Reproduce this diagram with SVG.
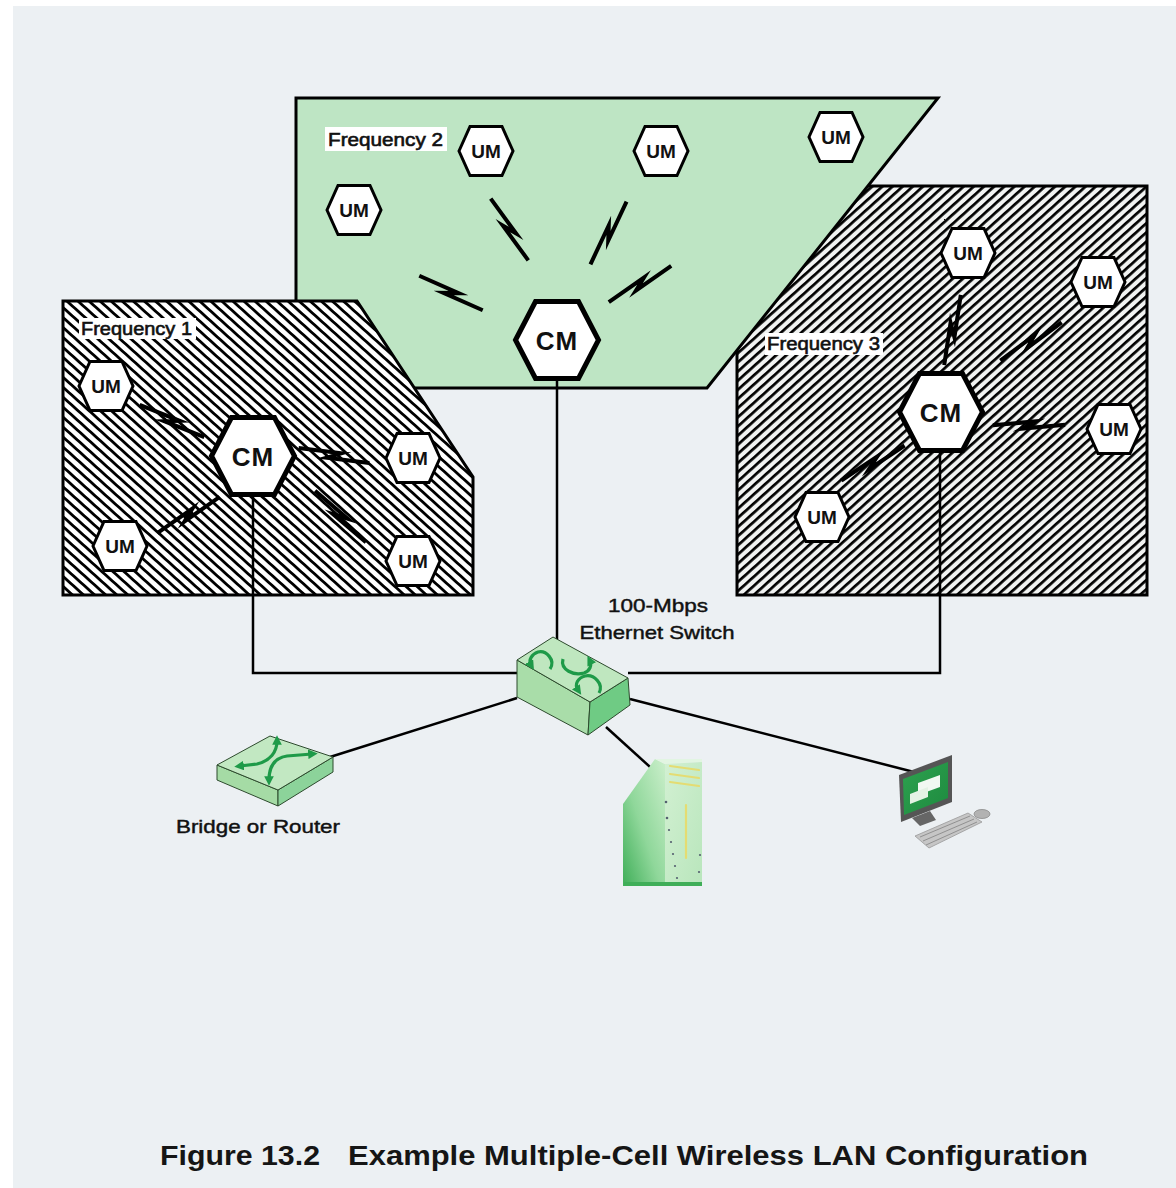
<svg xmlns="http://www.w3.org/2000/svg" width="1176" height="1188" viewBox="0 0 1176 1188">
  <style>
    .region { stroke: #000; stroke-width: 3; stroke-linejoin: miter; }
    .um { fill: #fff; stroke: #000; stroke-width: 3; stroke-linejoin: miter; }
    .cm { fill: #fff; stroke: #000; stroke-width: 5; stroke-linejoin: miter; }
    .um-t { font-family: "Liberation Sans", Arial, sans-serif; font-weight: bold; font-size: 19px; text-anchor: middle; fill: #111; }
    .cm-t { font-family: "Liberation Sans", Arial, sans-serif; font-weight: bold; font-size: 26px; text-anchor: middle; fill: #111; letter-spacing: 1px; }
    .freq-bg { fill: #fff; }
    .freq-t { font-family: "Liberation Sans", Arial, sans-serif; font-size: 18px; fill: #111; stroke: #111; stroke-width: 0.6; }
    .label { font-family: "Liberation Sans", Arial, sans-serif; font-size: 19px; fill: #111; stroke: #111; stroke-width: 0.45; }
    .caption { font-family: "Liberation Sans", Arial, sans-serif; font-weight: bold; font-size: 28px; fill: #151515; }
    .wire { fill: none; stroke: #000; stroke-width: 2.5; }
    .bolt { fill: none; stroke: #000; stroke-width: 4; stroke-linejoin: miter; stroke-miterlimit: 10; }
    .garrow { fill: none; stroke: #1E9A48; stroke-width: 3.2; }
    .edge { stroke: #2d4a2d; stroke-width: 1; stroke-linejoin: round; }
  </style>
  <defs>
    <!-- hatch for cell 1: lines falling to the right -->
    <pattern id="hatch1" patternUnits="userSpaceOnUse" width="7.4" height="7.4" patternTransform="rotate(42)">
      <rect width="7.4" height="7.4" fill="#fff"/>
      <rect y="0" width="7.4" height="2.8" fill="#000"/>
    </pattern>
    <!-- hatch for cell 3: lines rising to the right -->
    <pattern id="hatch3" patternUnits="userSpaceOnUse" width="6.8" height="6.8" patternTransform="rotate(-42)">
      <rect width="6.8" height="6.8" fill="#F1F3F2"/>
      <rect y="0" width="6.8" height="2.7" fill="#000"/>
    </pattern>
    <polygon id="um-hex" points="-27,0 -16,-24.5 16,-24.5 27,0 16,24.5 -16,24.5"/>
    <polygon id="cm-hex" points="-41.5,0 -21.5,-38.5 21.5,-38.5 41.5,0 21.5,38.5 -21.5,38.5"/>
    <!-- radio link symbol, 72 px long, centred on the origin -->
    <path id="bolt" class="bolt" d="M -36,-3 L 7,-3 L -7,3 L 36,3"/>
    <marker id="ghead" viewBox="0 0 10 10" refX="4" refY="5" markerWidth="3" markerHeight="3" orient="auto-start-reverse">
      <path d="M0,0 L10,5 L0,10 z" fill="#1E9A48"/>
    </marker>
    <linearGradient id="srv-side" x1="1" y1="0" x2="0" y2="1">
      <stop offset="0" stop-color="#CBEFCB"/>
      <stop offset="0.55" stop-color="#8FD79A"/>
      <stop offset="1" stop-color="#3FAE58"/>
    </linearGradient>
    <linearGradient id="srv-front" x1="0" y1="0" x2="1" y2="1">
      <stop offset="0" stop-color="#D2F0D2"/>
      <stop offset="1" stop-color="#B9E6BC"/>
    </linearGradient>
    <linearGradient id="screen" x1="0" y1="0" x2="1" y2="1">
      <stop offset="0" stop-color="#2DA24F"/>
      <stop offset="1" stop-color="#1E8A3F"/>
    </linearGradient>
  </defs>

  <!-- page -->
  <rect width="1176" height="1188" fill="#fff"/>
  <rect x="13" y="6" width="1163" height="1182" fill="#ECF0F3"/>

  <!-- cell areas -->
  <g id="cell-3">
    <rect class="region" x="737" y="186" width="410" height="409" fill="url(#hatch3)"/>
  </g>
  <g id="cell-2">
    <polygon class="region" points="296,98 938,98 707,388 296,388" fill="#BEE5C4"/>
  </g>
  <g id="cell-1">
    <polygon class="region" points="63,301 357,301 473,477 473,595 63,595" fill="url(#hatch1)"/>
  </g>

  <!-- wired connections -->
  <g id="connectors">
    <polyline class="wire" points="557,378 557,640"/>
    <polyline class="wire" points="253,494 253,673 517,673"/>
    <polyline class="wire" points="940,450 940,673 628,673"/>
    <line class="wire" x1="517" y1="698" x2="330" y2="757"/>
    <line class="wire" x1="606" y1="727" x2="660" y2="776"/>
    <line class="wire" x1="630" y1="699" x2="914" y2="772"/>
  </g>

  <!-- radio links -->
  <g id="radio-links">
    <use href="#bolt" transform="translate(509.5,229.5) rotate(53.9)"/>
    <use href="#bolt" transform="translate(608.5,233) rotate(-64.8)"/>
    <use href="#bolt" transform="translate(451,293) rotate(23.8)"/>
    <use href="#bolt" transform="translate(640,284) rotate(-35)"/>
    <use href="#bolt" transform="translate(172,421) rotate(21.8)"/>
    <use href="#bolt" transform="translate(334,455.5) rotate(7.1)"/>
    <use href="#bolt" transform="translate(188.5,515) rotate(-35)"/>
    <use href="#bolt" transform="translate(340.5,516.5) rotate(40.5)" style="stroke-width:5.5"/>
    <use href="#bolt" transform="translate(952.5,330) rotate(-81.5)"/>
    <use href="#bolt" transform="translate(1031,341.5) rotate(-36.6)"/>
    <use href="#bolt" transform="translate(1029,425) rotate(-5)"/>
    <use href="#bolt" transform="translate(873,463) rotate(-33.7)"/>
  </g>

  <!-- cell labels -->
  <g id="label-f1">
    <rect class="freq-bg" x="79" y="318" width="117" height="21"/>
    <text class="freq-t" x="81" y="335" textLength="111" lengthAdjust="spacingAndGlyphs">Frequency 1</text>
  </g>
  <g id="label-f2">
    <rect class="freq-bg" x="325" y="127" width="122" height="24"/>
    <text class="freq-t" x="328" y="146" textLength="115" lengthAdjust="spacingAndGlyphs">Frequency 2</text>
  </g>
  <g id="label-f3">
    <rect class="freq-bg" x="765" y="333" width="118" height="22"/>
    <text class="freq-t" x="767" y="350" textLength="113" lengthAdjust="spacingAndGlyphs">Frequency 3</text>
  </g>

  <!-- cell 2 stations -->
  <g id="f2-um1" transform="translate(486,151)"><use href="#um-hex" class="um"/><text class="um-t" y="7">UM</text></g>
  <g id="f2-um2" transform="translate(661,151)"><use href="#um-hex" class="um"/><text class="um-t" y="7">UM</text></g>
  <g id="f2-um3" transform="translate(836,137)"><use href="#um-hex" class="um"/><text class="um-t" y="7">UM</text></g>
  <g id="f2-um4" transform="translate(354,210)"><use href="#um-hex" class="um"/><text class="um-t" y="7">UM</text></g>
  <g id="f2-cm" transform="translate(557,340)"><use href="#cm-hex" class="cm"/><text class="cm-t" y="9.5">CM</text></g>

  <!-- cell 1 stations -->
  <g id="f1-um1" transform="translate(106,386)"><use href="#um-hex" class="um"/><text class="um-t" y="7">UM</text></g>
  <g id="f1-um2" transform="translate(413,458)"><use href="#um-hex" class="um"/><text class="um-t" y="7">UM</text></g>
  <g id="f1-um3" transform="translate(120,546)"><use href="#um-hex" class="um"/><text class="um-t" y="7">UM</text></g>
  <g id="f1-um4" transform="translate(413,561)"><use href="#um-hex" class="um"/><text class="um-t" y="7">UM</text></g>
  <g id="f1-cm" transform="translate(253,456)"><use href="#cm-hex" class="cm"/><text class="cm-t" y="9.5">CM</text></g>

  <!-- cell 3 stations -->
  <g id="f3-um1" transform="translate(968,253)"><use href="#um-hex" class="um"/><text class="um-t" y="7">UM</text></g>
  <g id="f3-um2" transform="translate(1098,282)"><use href="#um-hex" class="um"/><text class="um-t" y="7">UM</text></g>
  <g id="f3-um3" transform="translate(1114,429)"><use href="#um-hex" class="um"/><text class="um-t" y="7">UM</text></g>
  <g id="f3-um4" transform="translate(822,517)"><use href="#um-hex" class="um"/><text class="um-t" y="7">UM</text></g>
  <g id="f3-cm" transform="translate(941,412)"><use href="#cm-hex" class="cm"/><text class="cm-t" y="9.5">CM</text></g>

  <!-- Ethernet switch -->
  <g id="switch">
    <polygon class="edge" points="517,660 590,702 588,735 517,697" fill="#A9DDA9"/>
    <polygon class="edge" points="590,702 628,678 630,705 588,735" fill="#6FCB84"/>
    <polygon class="edge" points="517,660 553,637 628,678 590,702" fill="#BFE7BF"/>
    <path class="garrow" d="M 550,669 C 556,660 546,650 538,652 C 532,654 528,660 531,665" marker-end="url(#ghead)"/>
    <path class="garrow" d="M 563,659 C 560,670 574,676 584,673 C 590,671 592,665 590,661" marker-end="url(#ghead)"/>
    <path class="garrow" d="M 599,693 C 604,684 594,674 585,676 C 578,678 574,684 578,690" marker-end="url(#ghead)"/>
    <text class="label" x="658" y="612" text-anchor="middle" textLength="100" lengthAdjust="spacingAndGlyphs">100-Mbps</text>
    <text class="label" x="657" y="639" text-anchor="middle" textLength="155" lengthAdjust="spacingAndGlyphs">Ethernet Switch</text>
  </g>

  <!-- bridge / router -->
  <g id="bridge">
    <polygon class="edge" points="217,765 278,790 278,806 217,780" fill="#A5DBA5"/>
    <polygon class="edge" points="278,790 333,757 333,772 278,806" fill="#8CD39A"/>
    <polygon class="edge" points="217,765 270,736 333,757 278,790" fill="#C2E8C2"/>
    <path class="garrow" d="M 312,754 L 287,756 C 274,758 269,767 269,780" marker-start="url(#ghead)" marker-end="url(#ghead)"/>
    <path class="garrow" d="M 277,741 C 277,752 270,761 257,764 L 240,766" marker-start="url(#ghead)" marker-end="url(#ghead)"/>
    <text class="label" x="258" y="833" text-anchor="middle" textLength="164" lengthAdjust="spacingAndGlyphs">Bridge or Router</text>
  </g>

  <!-- server -->
  <g id="server">
    <polygon points="623,804 655,759 665,764 665,886 623,886" fill="url(#srv-side)"/>
    <polygon points="655,759 702,759 702,762 665,764" fill="#E2F5E2"/>
    <polygon points="665,764 702,762 702,886 665,886" fill="url(#srv-front)"/>
    <g stroke="#E4DC72" stroke-width="2.2" stroke-linecap="round">
      <line x1="670" y1="766" x2="699" y2="770"/>
      <line x1="670" y1="774" x2="699" y2="778"/>
      <line x1="670" y1="782" x2="699" y2="786"/>
      <line x1="686" y1="805" x2="686" y2="858"/>
    </g>
    <g fill="#556070">
      <circle cx="666" cy="802" r="1.3"/>
      <circle cx="667" cy="818" r="1.3"/>
      <circle cx="669" cy="830" r="1.1"/>
      <circle cx="671" cy="842" r="1.1"/>
      <circle cx="673" cy="854" r="1.1"/>
      <circle cx="675" cy="866" r="1.1"/>
      <circle cx="677" cy="878" r="1.1"/>
      <circle cx="700" cy="855" r="1.1"/>
      <circle cx="699" cy="872" r="1.1"/>
    </g>
    <rect x="624" y="882" width="78" height="4" fill="#3FAE58"/>
  </g>

  <!-- workstation -->
  <g id="workstation">
    <polygon points="899,775 952,755 952,802 901,822" fill="#555"/>
    <polygon points="903,779 948,762 948,798 904,815" fill="url(#screen)"/>
    <polygon points="918,783 940,775 940,787 918,795" fill="#F2F8F2"/>
    <polygon points="910,794 928,787 928,797 910,804" fill="#E4F2E4"/>
    <polygon points="912,818 930,811 936,820 920,826" fill="#666"/>
    <polygon points="915,836 968,813 982,822 929,848" fill="#C6C6C6" stroke="#999" stroke-width="0.8"/>
    <g stroke="#8A8A8A" stroke-width="0.9">
      <line x1="920" y1="837" x2="970" y2="816"/>
      <line x1="923" y1="841" x2="974" y2="819"/>
      <line x1="926" y1="845" x2="977" y2="822"/>
    </g>
    <ellipse cx="982" cy="814" rx="8" ry="4.5" fill="#B2B2B2" stroke="#8A8A8A" stroke-width="0.8"/>
  </g>

  <!-- caption -->
  <g id="caption">
    <text class="caption" x="160" y="1165" textLength="160" lengthAdjust="spacingAndGlyphs">Figure 13.2</text>
    <text class="caption" x="348" y="1165" textLength="740" lengthAdjust="spacingAndGlyphs">Example Multiple-Cell Wireless LAN Configuration</text>
  </g>
</svg>
